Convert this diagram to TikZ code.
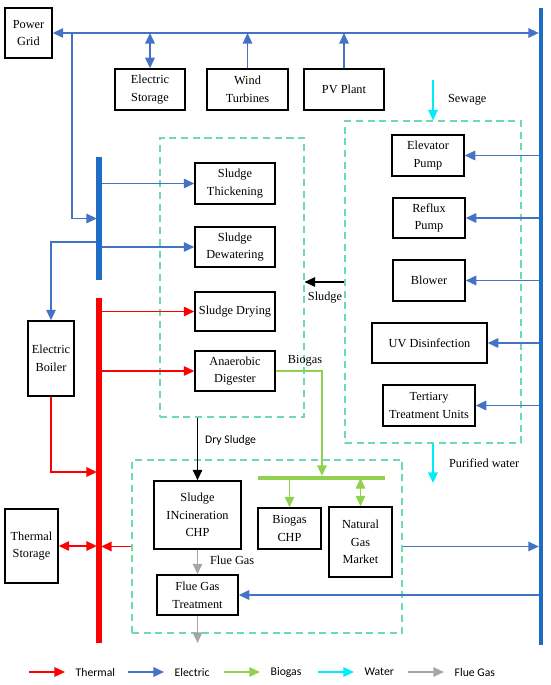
\documentclass[tikz,border=0pt]{standalone}
\usepackage{fontspec}
\setmainfont{Liberation Serif}
\newfontfamily\calibri{Carlito}
\usepackage{xcolor}
\usetikzlibrary{arrows.meta, positioning, calc}
\definecolor{elecC}{RGB}{68,114,196}
\definecolor{busC}{RGB}{31,108,196}
\definecolor{thermC}{RGB}{255,0,0}
\definecolor{bioC}{RGB}{146,208,80}
\definecolor{waterC}{RGB}{0,238,250}
\definecolor{flueC}{RGB}{166,166,166}
\definecolor{zoneC}{RGB}{110,220,170}

\begin{document}
\begin{tikzpicture}[x=0.03cm, y=-0.03cm, >={Triangle[length=9pt,width=8pt]},
			font=\fontsize{10.5}{15}\selectfont,
			wh/.style 2 args={minimum width=#1*0.03cm, minimum height=#2*0.03cm},
			unit/.style={draw, line width=1.2pt, align=center, inner sep=0pt},
			zone/.style={draw=zoneC, line width=0.9pt, dash pattern=on 6pt off 4pt, inner sep=0pt},
			elec/.style={draw=elecC, line width=1.6pt},
			therm/.style={draw=thermC, line width=1.6pt},
			bio/.style={draw=bioC, line width=1.6pt},
			water/.style={draw=waterC, line width=1.6pt},
			flue/.style={draw=flueC, line width=1.6pt},
			sludge/.style={draw=black, line width=1.6pt},
			tobus/.style={shorten >=1.8pt},
			bus/.style={line width=4.2pt},
			leg/.style={font=\calibri\fontsize{10}{12}\selectfont, anchor=west}]
			\useasboundingbox (0,0) rectangle (550,685);
			% plant zones (dashed)
			\node[zone, wh={176}{322}] (wz) at (433,282) {};
			\node[zone, wh={144}{279}] (sz) at (232,277.5) {};
			\node[zone, wh={270}{173}] (cz) at (267,546.5) {};
			% power side
			\node[unit, wh={47}{50}] (grid) at (28.5,33) {Power\\Grid};
			\node[unit, wh={70}{41}] (estor) at (150,89.5) {Electric\\Storage};
			\node[unit, wh={81}{41}] (wind) at (247.5,89.5) {Wind\\Turbines};
			\node[unit, wh={80}{41}] (pv) at (344,89.5) {PV Plant};
			% sludge line
			\node[unit, wh={80}{41}] (thick) at (235,183.5) {Sludge\\Thickening};
			\node[unit, wh={80}{40}] (dewat) at (235,247) {Sludge\\Dewatering};
			\node[unit, wh={80}{39}] (dry) at (235,311.5) {Sludge Drying};
			\node[unit, wh={80}{40}] (digest) at (235,371) {Anaerobic\\Digester};
			\node[unit, wh={46}{75}] (boiler) at (51,358.5) {Electric\\Boiler};
			\node[unit, wh={53}{74}] (tstor) at (31.5,546) {Thermal\\Storage};
			% water line
			\node[unit, wh={72}{41}] (elev) at (428,155.5) {Elevator\\Pump};
			\node[unit, wh={72}{40}] (reflux) at (429,218) {Reflux\\Pump};
			\node[unit, wh={72}{41}] (blower) at (429,280.5) {Blower};
			\node[unit, wh={115}{40}] (uv) at (429.5,343) {UV Disinfection};
			\node[unit, wh={92}{41}] (tert) at (429,405.5) {Tertiary\\Treatment Units};
			% CHP zone
			\node[unit, wh={87}{68}] (incin) at (197.5,515) {Sludge\\INcineration\\CHP};
			\node[unit, wh={81}{40}] (fgt) at (197.5,595) {Flue Gas\\Treatment};
			\node[unit, wh={63}{41}] (bchp) at (289.5,528.5) {Biogas\\CHP};
			\node[unit, wh={63}{70}] (ngas) at (360.5,542) {Natural\\Gas\\Market};
			% bus ends
			\coordinate (rbusT) at (541,8);
			\coordinate (rbusB) at (541,645);
			\coordinate (lbusT) at (99,157);
			\coordinate (lbusB) at (99,280);
			\coordinate (tbusT) at (99,298);
			\coordinate (tbusB) at (99,643);
			\coordinate (gbarL) at (258,478);
			\coordinate (gbarR) at (385,478);
			\coordinate (tap) at (72,33);
			\coordinate (boilTap) at (99,242);
			\coordinate (boilIn) at (99,472);
			\coordinate (bioIn) at (322,478);
			\coordinate (sewIn) at (433,80);
			\coordinate (pwOut) at (433,483);
			\coordinate (flueOut) at (197.5,643);
			% electric links
			\draw[elec, <->, tobus] (grid.east) -- (grid.east -| rbusT);
			\draw[elec, <->] (estor.north) -- (estor.north |- grid.east);
			\draw[elec, ->] (wind.north) -- (wind.north |- grid.east);
			\draw[elec, ->] (pv.north) -- (pv.north |- grid.east);
			\draw[elec, ->, tobus] (tap) |- ($(lbusT)!.5!(lbusB)$);
			\draw[elec, ->] (thick.west -| lbusT) -- (thick.west);
			\draw[elec, ->] (dewat.west -| lbusT) -- (dewat.west);
			\draw[elec, ->] (boilTap) -| (boiler.north);
			\draw[elec, ->] (elev.east -| rbusT) -- (elev.east);
			\draw[elec, ->] (reflux.east -| rbusT) -- (reflux.east);
			\draw[elec, ->] (blower.east -| rbusT) -- (blower.east);
			\draw[elec, ->] (uv.east -| rbusT) -- (uv.east);
			\draw[elec, ->] (tert.east -| rbusT) -- (tert.east);
			\draw[elec, ->, tobus] (cz.east) -- (cz.east -| rbusT);
			\draw[elec, ->] (fgt.east -| rbusT) -- (fgt.east);
			% thermal links
			\draw[therm, ->] (dry.west -| tbusT) -- (dry.west);
			\draw[therm, ->] (digest.west -| tbusT) -- (digest.west);
			\draw[therm, ->, tobus] (boiler.south) |- (boilIn);
			\draw[therm, <->, tobus] (tstor.east) -- (tstor.east -| tbusT);
			\draw[therm, ->, tobus] (cz.west) -- (cz.west -| tbusT);
			% biogas links
			\draw[bio, ->, tobus] (digest.east) -| (bioIn);
			\draw[bio, ->] (bchp.north |- gbarL) -- (bchp.north);
			\draw[bio, <->] (ngas.north |- gbarL) -- (ngas.north);
			% water, sludge and flue gas
			\draw[water, ->] (sewIn) -- (wz.north);
			\draw[water, ->] (wz.south) -- (pwOut);
			\draw[sludge, ->] (wz.west) -- (wz.west -| sz.east);
			\draw[sludge, ->] (incin.north |- sz.south) -- (incin.north);
			\draw[flue, ->] (incin.south) -- (fgt.north);
			\draw[flue, ->] (fgt.south) -- (flueOut);
			% buses
			\draw[bus, busC] (rbusT) -- (rbusB);
			\draw[bus, busC, line width=4.8pt] (lbusT) -- (lbusB);
			\draw[bus, thermC, line width=4.8pt] (tbusT) -- (tbusB);
			\draw[bus, bioC] (gbarL) -- (gbarR);
			% flow labels
			\node[anchor=west] (lsew) at (444,100) {Sewage};
			\node (lsl) at (325,298) {Sludge};
			\node (lbio) at (305,361) {Biogas};
			\node[leg] (ldry) at (201,440) {Dry Sludge};
			\node[anchor=west] (lflue) at (206,560) {Flue Gas};
			\node[anchor=west] (lpw) at (445,463) {Purified water};
			% legend
			\foreach \st/\x/\t in {therm/29/Thermal, elec/128/Electric, bio/224/Biogas,
				water/318/Water, flue/408/Flue Gas} {
				\coordinate (k\x) at (\x,672);
				\draw[\st, ->] (k\x) -- ++(36,0) node[leg, right=5pt] {\t};
			}
		\end{tikzpicture}
\end{document}
